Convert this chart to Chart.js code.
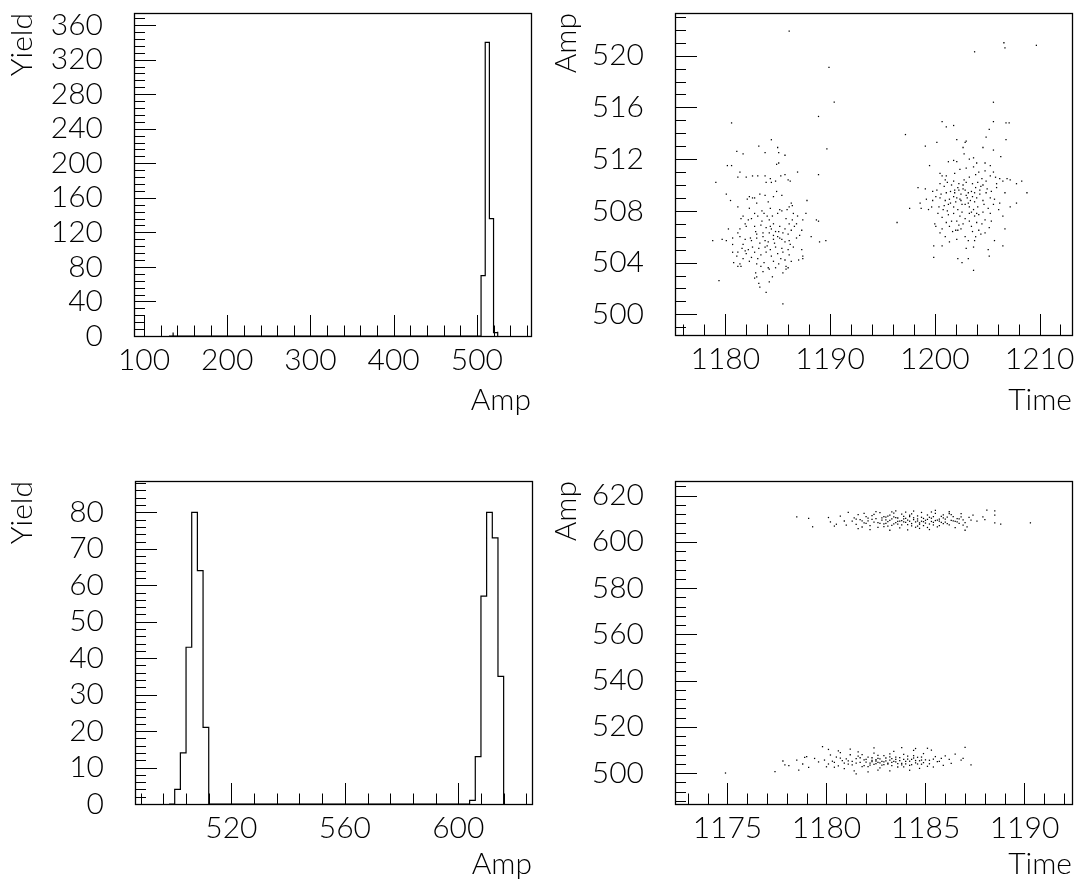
<!DOCTYPE html>
<html>
<head>
<meta charset="utf-8">
<script src="https://cdn.jsdelivr.net/npm/chart.js@4.4.1/dist/chart.umd.min.js"></script>
<style>
  html, body { margin: 0; padding: 0; background: #fff; }
  body { width: 1079px; height: 881px; position: relative; overflow: hidden; }
  canvas { position: absolute; }
</style>
</head>
<body>
<canvas id="ampHist" style="left:0;top:0" width="540" height="440"></canvas>
<canvas id="ampTime" style="left:540px;top:0" width="539" height="440"></canvas>
<canvas id="ampHist2" style="left:0;top:440px" width="540" height="441"></canvas>
<canvas id="ampTime2" style="left:540px;top:440px" width="539" height="441"></canvas>
<script>
// ---- top left: Amp histogram (bin width 5) ----
const amp1Width = 5;
const amp1Low = [130, 500, 505, 510, 515, 520];
const amp1Count = [4, 70, 340, 136, 4, 5];
const amp1XLabels = [100, 200, 300, 400, 500];
const amp1YLabels = [0, 40, 80, 120, 160, 200, 240, 280, 320, 360];

// ---- bottom left: Amp histogram (bin width 2) ----
const amp2Width = 2;
const amp2Low = [498, 500, 502, 504, 506, 508, 510, 602, 604, 606, 608, 610, 612, 614];
const amp2Count = [4, 14, 43, 80, 64, 21, 8, 1, 13, 57, 80, 73, 35, 7];
const amp2XLabels = [520, 560, 600];
const amp2YLabels = [0, 10, 20, 30, 40, 50, 60, 70, 80];

// ---- top right: Amp vs Time ----
const time1XLabels = [1180, 1190, 1200, 1210];
const time1YLabels = [500, 504, 508, 512, 516, 520];
const time1Points = [
  [1186.1,521.9],[1189.9,519.1],[1190.4,516.4],[1188.9,515.3],[1180.6,514.8],[1189.7,512.8],[1188.9,510.8],[1179.1,510.2],[1179.4,502.6],[1185.5,500.8],[1183.9,501.7],
  [1184.4,513.5],[1183.2,513.0],[1185.0,512.9],[1185.7,512.3],[1185.1,512.5],[1181.1,512.6],[1181.7,512.4],[1183.8,512.5],[1184.9,511.6],[1185.1,511.7],
  [1180.2,511.5],[1180.6,511.5],[1186.9,511.0],[1181.2,510.6],[1182.0,510.6],[1182.6,510.7],[1183.1,510.7],[1183.8,510.7],[1184.3,510.5],[1184.4,510.2],
  [1184.8,510.3],[1185.3,510.7],[1185.7,510.8],[1186.0,510.4],[1186.2,510.3],[1181.4,511.0],
  [1180.1,509.3],[1180.5,508.8],[1182.3,509.1],[1182.6,509.0],[1182.8,509.0],[1183.3,509.3],[1183.8,509.2],[1184.6,509.1],[1185.4,509.2],[1186.3,508.6],
  [1187.8,508.8],[1182.3,508.2],[1183.5,508.0],[1184.3,508.2],[1185.2,508.1],[1186.1,508.3],[1186.4,508.4],[1181.2,508.3],[1181.7,507.6],[1182.5,507.4],
  [1181.5,507.4],[1181.9,507.0],[1182.2,507.3],[1182.8,507.8],[1183.1,507.6],[1183.7,507.8],[1184.0,507.6],[1184.2,507.3],[1184.6,507.0],[1185.0,507.8],
  [1185.4,508.0],[1185.8,507.4],[1186.1,507.0],[1186.5,507.8],[1186.9,507.6],[1187.4,507.3],[1187.7,507.8],[1188.7,507.3],[1188.9,507.2],[1180.3,506.6],
  [1181.4,506.6],[1182.0,506.8],[1182.8,506.8],[1183.4,506.9],[1183.9,506.7],[1184.4,506.6],[1184.8,506.4],[1185.2,506.8],[1185.7,506.6],[1186.3,506.5],
  [1186.8,507.0],[1187.3,506.5],[1181.2,506.3],[1183.0,506.2],[1183.6,506.3],[1184.2,506.3],[1184.6,506.1],[1185.0,506.0],[1185.5,506.3],[1186.0,506.2],
  [1187.1,506.1],[1178.8,505.7],[1179.7,505.8],[1180.1,505.7],[1180.7,505.9],[1181.4,506.0],[1181.9,505.8],[1182.5,505.7],[1183.0,505.9],[1183.8,505.7],
  [1184.1,505.6],[1184.6,505.8],[1185.2,505.9],[1185.7,505.6],[1186.1,505.7],[1186.8,505.9],[1188.2,506.0],[1189.0,505.6],[1189.6,505.7],[1180.7,505.4],
  [1181.7,505.4],[1182.6,505.2],[1183.2,505.1],[1183.8,505.2],[1184.3,505.0],[1184.8,505.2],[1185.4,505.1],[1186.0,505.0],[1186.5,505.2],[1187.3,505.0],
  [1180.7,504.8],[1181.2,504.8],[1182.0,504.7],[1182.8,504.8],[1183.4,504.6],[1183.9,504.8],[1184.4,504.5],[1185.0,504.7],[1185.5,504.8],[1186.1,504.6],
  [1187.4,504.5],[1181.1,504.5],[1181.7,504.3],[1182.5,504.4],[1180.8,504.0],[1181.2,503.7],[1181.5,503.7],[1182.3,504.1],[1183.0,503.9],[1183.4,503.7],
  [1184.1,503.6],[1184.6,504.1],[1185.1,503.9],[1185.8,503.7],[1186.3,504.1],[1187.0,504.2],[1187.4,504.3],[1182.9,503.2],[1183.0,502.9],[1183.6,503.3],
  [1184.2,503.5],[1185.5,503.2],[1185.8,503.5],[1186.0,503.6],[1183.2,502.4],[1184.2,502.5],[1182.8,502.8],[1181.4,503.9],
  [1183.3,505.5],[1183.6,506.0],[1184.0,505.3],[1184.3,506.8],[1184.7,505.5],[1185.1,506.4],[1185.4,505.8],[1183.5,507.2],[1184.5,507.6],[1182.9,506.4],
  [1182.4,505.9],[1181.9,504.9],[1183.1,504.3],[1184.8,503.6],[1185.3,504.3],[1186.2,505.4],[1186.6,506.8],[1185.9,508.1],[1184.1,508.7],[1183.0,508.6],
  [1182.1,508.9],[1183.9,510.2],[1184.9,509.5],[1185.7,504.2],[1183.7,504.0],[1182.2,505.0],[1181.6,505.1],[1184.5,502.9],[1183.3,502.1],[1186.4,507.3],
  [1197.2,513.9],[1196.4,507.1],[1203.8,520.3],[1206.6,521.0],[1206.7,520.6],[1209.7,520.8],[1205.6,516.4],[1207.1,514.8],[1205.6,514.9],
  [1200.7,514.9],[1201.1,514.5],[1201.8,514.6],[1200.2,513.3],[1199.1,513.0],[1202.1,513.5],[1202.9,513.3],[1203.0,513.4],[1202.7,512.9],[1204.6,512.9],
  [1204.9,513.7],[1205.2,514.3],[1205.6,512.7],[1206.8,513.5],[1206.8,514.8],[1206.3,512.2],[1202.8,512.4],[1203.3,512.0],[1203.7,512.1],[1204.0,511.7],
  [1204.8,511.7],[1205.3,511.5],[1201.3,511.8],[1201.8,511.9],[1202.1,511.8],[1199.5,511.5],
  [1200.5,510.9],[1200.7,510.7],[1201.1,510.7],[1201.9,510.9],[1202.4,511.2],[1203.0,511.3],[1203.7,511.4],[1204.2,511.0],[1204.8,511.1],[1205.3,510.7],
  [1205.6,511.0],[1206.2,510.5],[1206.9,510.5],[1207.2,510.4],[1207.8,510.1],[1208.3,510.3],[1200.5,510.1],[1201.2,510.2],[1201.8,510.3],[1202.3,510.1],
  [1202.8,510.4],[1203.3,510.6],[1203.9,510.8],[1204.5,510.5],[1204.9,510.3],[1205.9,510.1],[1206.5,510.3],
  [1198.4,509.8],[1199.1,509.7],[1199.8,509.5],[1200.2,509.6],[1200.6,509.3],[1201.1,509.4],[1201.5,509.5],[1201.9,509.4],[1202.3,509.6],[1202.7,509.7],
  [1203.2,509.4],[1203.5,509.5],[1203.8,509.4],[1204.3,509.6],[1204.9,509.4],[1205.4,509.5],[1205.9,509.8],[1206.7,509.4],[1208.8,509.4],[1198.6,508.6],
  [1199.2,508.9],[1199.8,508.8],[1200.1,509.1],[1200.5,509.0],[1201.0,508.8],[1201.4,508.9],[1201.8,509.1],[1202.1,509.0],[1202.5,508.8],[1203.0,509.2],
  [1203.6,509.1],[1204.0,509.0],[1204.6,508.8],[1205.3,509.0],[1206.2,508.6],[1207.8,508.6],
  [1197.6,508.2],[1198.7,508.2],[1199.4,508.1],[1199.7,508.3],[1200.4,508.3],[1200.8,508.1],[1201.3,508.5],[1201.8,508.3],[1202.2,508.1],[1202.6,508.5],
  [1203.2,508.6],[1203.7,508.1],[1204.1,508.3],[1204.6,507.9],[1205.1,508.2],[1205.6,508.5],[1206.1,508.1],[1207.2,508.3],[1200.3,507.8],[1200.7,507.5],
  [1201.3,507.7],[1201.8,507.8],[1202.4,507.6],[1202.9,507.4],[1203.3,507.8],[1203.8,507.6],[1204.2,507.7],[1204.8,507.3],[1205.3,507.8],[1206.5,507.6],
  [1200.0,507.0],[1201.1,507.1],[1201.6,507.2],[1202.1,507.2],[1202.7,507.0],[1203.3,507.2],[1204.0,507.1],[1204.5,507.0],[1205.4,507.2],
  [1200.1,506.8],[1200.7,506.6],[1201.4,506.8],[1202.0,506.5],[1202.5,506.6],[1203.5,506.8],[1204.2,506.5],[1205.2,506.7],[1206.7,506.6],[1200.5,506.3],
  [1201.0,506.0],[1202.2,506.5],[1202.9,506.0],[1203.9,506.0],[1204.8,506.3],[1205.7,505.7],[1201.4,505.6],[1202.1,505.8],[1203.2,505.7],[1203.8,505.7],
  [1199.9,505.3],[1200.7,505.3],[1203.0,505.1],[1203.7,505.2],[1205.1,505.0],[1206.5,505.3],
  [1199.9,504.4],[1202.2,504.3],[1203.2,504.3],[1205.2,504.5],[1202.6,504.0],[1203.7,503.4],
  [1202.5,509.3],[1203.1,509.0],[1203.4,508.8],[1202.9,508.5],[1203.9,509.8],[1202.2,509.8],[1201.6,510.0],[1204.4,509.9],[1203.6,510.1],[1202.0,508.7],
  [1203.5,507.9],[1204.7,508.5],[1201.2,508.0],[1202.7,510.0],[1200.9,509.9],[1204.1,510.2],
  [1202.4,508.9],[1203.3,508.3],[1201.9,509.6],[1204.3,509.3],[1203.0,510.2],[1202.6,507.9],[1204.0,507.8],[1201.5,508.6],[1205.0,509.7],[1202.9,509.6],
  [1203.8,508.7],[1201.0,510.4],[1204.6,510.0],[1200.9,508.4],[1205.7,508.9],[1203.6,506.4],[1202.3,506.9],[1204.4,506.2],[1201.7,506.4],[1205.8,510.6]
];

// ---- bottom right: Amp vs Time ----
const time2XLabels = [1175, 1180, 1185, 1190];
const time2YLabels = [500, 520, 540, 560, 580, 600, 620];
const time2Points = [
  [1178.5,610.8],[1179.1,610.1],[1179.3,606.5],[1180.1,610.5],[1180.2,608.6],[1180.4,606.8],[1180.5,607.6],[1180.7,611.1],[1181.1,612.7],[1180.9,609.0],[1181.0,607.2],
  [1181.3,608.9],[1181.4,610.4],[1181.5,607.5],[1181.6,611.8],[1181.7,609.6],[1181.8,606.4],[1181.9,608.2],[1182.0,610.9],[1181.6,605.7],[1181.9,612.3],
  [1182.1,609.1],[1182.2,607.0],[1182.3,611.3],[1182.4,608.5],[1182.5,610.0],[1182.6,606.2],[1182.7,612.6],[1182.8,609.4],[1182.9,607.8],[1183.0,610.7],
  [1182.2,605.3],[1182.5,613.1],[1182.7,608.0],[1182.4,611.9],[1182.9,606.6],
  [1183.1,608.7],[1183.2,611.5],[1183.3,607.1],[1183.3,609.9],[1183.4,612.4],[1183.5,608.3],[1183.6,610.3],[1183.7,606.0],[1183.8,609.2],[1183.9,611.0],
  [1183.2,605.0],[1183.5,613.4],[1183.6,607.6],[1183.9,608.6],[1183.4,610.8],[1183.1,606.8],[1183.8,612.0],[1183.0,609.5],
  [1184.0,610.1],[1184.1,607.4],[1184.2,608.9],[1184.3,612.1],[1184.4,609.6],[1184.5,606.3],[1184.6,611.2],[1184.7,608.2],[1184.8,610.6],[1184.9,607.0],
  [1184.1,605.2],[1184.4,613.3],[1184.6,609.0],[1184.8,612.7],[1184.2,610.9],[1184.9,608.7],[1184.3,606.9],[1184.7,605.8],
  [1185.0,609.3],[1185.1,611.6],[1185.2,607.7],[1185.3,610.2],[1185.4,608.4],[1185.5,612.3],[1185.6,606.5],[1185.7,609.8],[1185.8,611.0],[1185.9,607.9],
  [1185.2,605.3],[1185.5,613.6],[1185.4,610.9],[1185.7,608.9],[1185.1,606.2],[1185.9,610.4],[1185.3,612.9],
  [1186.0,608.5],[1186.1,610.7],[1186.2,607.3],[1186.3,611.8],[1186.4,609.1],[1186.5,606.1],[1186.6,610.0],[1186.7,608.0],[1186.8,612.2],[1186.9,609.5],
  [1187.0,605.0],[1187.1,606.5],[1187.2,610.6],[1186.2,613.0],[1186.5,608.8],[1186.9,607.2],
  [1187.4,611.5],[1187.9,610.8],[1188.1,613.7],[1188.5,613.4],[1188.5,611.5],[1188.5,608.2],[1188.8,607.6],[1190.3,608.2],[1187.6,608.9],[1188.0,609.6],
  [1182.3,609.7],[1182.6,608.3],[1182.8,610.4],[1183.0,608.0],[1183.2,609.3],[1183.4,607.8],[1183.5,610.5],[1183.7,608.9],[1183.9,609.9],[1184.0,608.4],
  [1184.1,609.4],[1184.3,607.9],[1184.4,610.4],[1184.5,608.6],[1184.6,609.9],[1184.7,607.6],[1184.9,610.1],[1185.0,608.1],[1185.1,609.7],[1185.2,610.6],
  [1185.3,608.8],[1185.4,607.3],[1185.6,609.4],[1185.8,608.4],[1186.0,609.8],[1186.1,607.9],[1186.3,609.3],[1186.4,610.9],[1186.6,608.6],[1186.7,609.9],
  [1182.0,608.0],[1182.1,610.2],[1181.8,609.1],[1183.1,611.1],[1183.6,608.8],[1184.2,611.5],[1184.8,608.9],[1185.5,609.2],[1185.9,611.6],[1186.8,610.8],
  [1187.0,608.3],[1187.3,609.4],[1181.5,609.8],[1182.9,610.9],[1183.8,607.3],[1184.6,606.8],[1185.7,607.0],[1186.2,612.2],[1183.3,612.9],[1184.0,612.8],
  [1174.9,500.0],[1177.4,500.6],[1177.8,505.2],[1177.9,503.5],[1178.1,503.2],[1178.5,505.6],[1178.6,501.3],[1178.8,503.9],[1178.9,506.8],[1179.0,507.1],
  [1179.1,502.4],[1179.4,506.3],[1179.8,511.4],[1179.9,505.6],[1180.0,502.7],[1180.1,510.2],[1180.2,507.8],
  [1180.4,504.6],[1180.5,506.9],[1180.6,503.1],[1180.7,508.8],[1180.8,505.4],[1180.9,501.9],[1180.6,509.6],[1180.4,502.5],
  [1181.0,506.1],[1181.1,503.8],[1181.2,507.9],[1181.3,505.0],[1181.4,500.9],[1181.5,504.3],[1181.6,509.1],[1181.7,506.6],[1181.8,502.8],[1181.9,505.7],
  [1181.2,510.3],[1181.5,499.6],[1181.8,508.0],
  [1182.0,504.7],[1182.1,506.9],[1182.2,503.4],[1182.3,505.5],[1182.4,508.6],[1182.5,504.1],[1182.6,506.3],[1182.7,502.2],[1182.8,505.0],[1182.9,507.5],
  [1182.1,500.5],[1182.3,504.9],[1182.5,505.8],[1182.7,504.4],[1182.9,503.6],[1182.4,510.9],[1182.6,501.3],
  [1183.0,505.3],[1183.1,503.9],[1183.2,507.0],[1183.3,504.6],[1183.4,509.4],[1183.5,505.9],[1183.6,502.6],[1183.7,506.7],[1183.8,504.2],[1183.9,508.1],
  [1183.2,500.9],[1183.5,504.8],[1183.8,511.0],[1183.3,506.2],
  [1184.0,505.0],[1184.1,507.3],[1184.2,503.3],[1184.3,505.9],[1184.4,509.8],[1184.5,504.4],[1184.6,506.8],[1184.7,502.0],[1184.8,505.6],[1184.9,508.4],
  [1184.2,501.2],[1184.5,510.6],[1184.8,503.8],
  [1185.1,510.7],[1185.3,509.9],[1185.5,507.1],[1185.6,504.9],[1185.8,506.3],[1186.2,505.9],[1186.3,504.2],[1186.5,508.2],[1186.8,505.6],[1186.9,506.3],
  [1187.0,511.1],[1187.3,503.5],[1185.2,505.5],[1185.9,503.3],[1186.0,507.4],[1185.4,502.6],
  [1181.1,505.3],[1181.3,503.5],[1181.5,506.2],[1181.7,504.6],[1181.9,503.2],[1182.0,505.9],[1182.2,504.3],[1182.3,506.6],[1182.4,503.7],[1182.5,505.2],
  [1182.6,504.6],[1182.7,506.1],[1182.8,503.4],[1182.9,504.8],[1183.0,506.5],[1183.1,504.3],[1183.2,505.6],[1183.3,503.2],[1183.4,505.0],[1183.5,506.9],
  [1183.6,504.1],[1183.7,505.4],[1183.8,503.5],[1183.9,505.9],[1184.0,504.0],[1184.1,506.0],[1184.2,505.1],[1184.3,503.6],[1184.4,506.5],[1184.5,505.4],
  [1184.6,503.9],[1184.7,505.3],[1184.8,506.9],[1184.9,504.5],[1185.0,505.7],[1185.2,504.0],[1185.4,506.0],[1185.7,505.0],[1180.9,504.3],[1180.7,506.4],
  [1180.3,505.1],[1180.1,503.9],[1179.6,504.8],[1182.1,502.8],[1183.2,508.3],[1183.9,502.7],[1184.4,507.5],[1182.6,507.6],[1181.6,507.3],[1185.1,502.9]
];

const FONT = { family: 'Lato, "DejaVu Sans", sans-serif', size: 30, weight: 300, lineHeight: 1 };

function range(a, b, step) {
  const out = [];
  for (let v = a; v <= b + 1e-9; v += step) out.push(+v.toFixed(4));
  return out;
}

// histogram outline: vertical-first steps through the bin edges
function histSteps(lows, counts, width) {
  const pts = [];
  let prevHi = null;
  lows.forEach((lo, i) => {
    const hi = lo + width;
    if (prevHi === null || Math.abs(prevHi - lo) > 1e-9) {
      if (prevHi !== null) pts.push({ x: prevHi, y: 0 });
      pts.push({ x: lo, y: 0 });
    }
    pts.push({ x: hi, y: counts[i] });
    prevHi = hi;
  });
  pts.push({ x: prevHi, y: 0 });
  return pts;
}

// frame box and inward ticks, ROOT style
const rootFrame = {
  id: 'rootFrame',
  afterDatasetsDraw(chart, args, opts) {
    const { ctx, chartArea: a, scales } = chart;
    const x = scales.x, y = scales.y;
    ctx.save();
    ctx.strokeStyle = '#000';
    ctx.lineWidth = 1;
    ctx.beginPath();
    const xt = (list, len) => list.forEach(v => {
      if (v < x.min || v > x.max) return;
      const p = Math.round(x.getPixelForValue(v)) + 0.5;
      ctx.moveTo(p, a.bottom); ctx.lineTo(p, a.bottom - len);
    });
    const yt = (list, len) => list.forEach(v => {
      if (v < y.min || v > y.max) return;
      const p = Math.round(y.getPixelForValue(v)) + 0.5;
      ctx.moveTo(a.left, p); ctx.lineTo(a.left + len, p);
    });
    xt(opts.xMajor, 21); xt(opts.xMinor, 10.5);
    yt(opts.yMajor, 22); yt(opts.yMinor, 11);
    ctx.stroke();
    ctx.lineWidth = 1.3;
    ctx.strokeRect(Math.round(a.left) + 0.5, Math.round(a.top) + 0.5,
      Math.round(a.right - a.left), Math.round(a.bottom - a.top));
    ctx.restore();
  }
};

function makeScales(c) {
  return {
    x: {
      type: 'linear', min: c.xMin, max: c.xMax,
      afterBuildTicks: s => { s.ticks = c.xLabels.map(v => ({ value: v })); },
      afterFit: s => { s.height = c.xHeight; s.paddingLeft = 0; s.paddingRight = 0; },
      grid: { display: false, drawTicks: false },
      border: { display: false },
      ticks: { font: FONT, color: '#000', padding: 9, autoSkip: false, maxRotation: 0, callback: v => String(v) },
      title: { display: true, text: c.xTitle, align: 'end', font: FONT, color: '#000', padding: { top: 0, bottom: c.xTitlePad } }
    },
    y: {
      type: 'linear', min: c.yMin, max: c.yMax,
      afterBuildTicks: s => { s.ticks = c.yLabels.map(v => ({ value: v })); },
      afterFit: s => { s.width = c.yWidth; s.paddingTop = 0; s.paddingBottom = 0; },
      grid: { display: false, drawTicks: false },
      border: { display: false },
      ticks: { font: FONT, color: '#000', padding: 31, autoSkip: false, callback: v => String(v) },
      title: { display: true, text: c.yTitle, align: 'end', font: FONT, color: '#000', padding: { top: c.yTitlePad, bottom: 0 } }
    }
  };
}

function makeChart(id, datasets, c) {
  return new Chart(document.getElementById(id), {
    type: 'scatter',
    data: { datasets: datasets },
    options: {
      responsive: false, animation: false, devicePixelRatio: 1,
      events: [],
      layout: { padding: { top: c.padTop, right: c.padRight, left: 0, bottom: 0 } },
      plugins: {
        legend: { display: false }, tooltip: { enabled: false },
        rootFrame: { xMajor: c.xLabels, xMinor: c.xMinor, yMajor: c.yLabels, yMinor: c.yMinor }
      },
      scales: makeScales(c)
    },
    plugins: [rootFrame]
  });
}

function histSet(lows, counts, width) {
  return {
    type: 'line', data: histSteps(lows, counts, width), stepped: 'before',
    borderColor: '#000', borderWidth: 1.2, pointRadius: 0, fill: false, showLine: true
  };
}

function dotSet(points) {
  return {
    data: points.map(p => ({ x: p[0], y: p[1] })),
    pointStyle: 'rect', pointRadius: 0.9, backgroundColor: '#000', borderWidth: 0
  };
}

makeChart('ampHist', [histSet(amp1Low, amp1Count, amp1Width)], {
  xMin: 88, xMax: 565, yMin: 0, yMax: 374,
  xLabels: amp1XLabels, xMinor: range(120, 560, 20),
  yLabels: amp1YLabels, yMinor: range(8, 368, 8),
  xTitle: 'Amp', yTitle: 'Yield', xHeight: 104, yWidth: 134,
  xTitlePad: 25, yTitlePad: 7, padTop: 13, padRight: 9
});

makeChart('ampTime', [dotSet(time1Points)], {
  xMin: 1175.2, xMax: 1213.1, yMin: 498.4, yMax: 523.3,
  xLabels: time1XLabels, xMinor: range(1176, 1212, 2),
  yLabels: time1YLabels, yMinor: range(499, 523, 1),
  xTitle: 'Time', yTitle: 'Amp', xHeight: 105, yWidth: 135,
  xTitlePad: 25, yTitlePad: 11, padTop: 13, padRight: 7
});

makeChart('ampHist2', [histSet(amp2Low, amp2Count, amp2Width)], {
  xMin: 486, xMax: 626, yMin: 0, yMax: 88.6,
  xLabels: amp2XLabels, xMinor: range(488, 624, 8),
  yLabels: amp2YLabels, yMinor: range(2, 88, 2),
  xTitle: 'Amp', yTitle: 'Yield', xHeight: 77, yWidth: 135,
  xTitlePad: 2, yTitlePad: 7, padTop: 41, padRight: 8
});

makeChart('ampTime2', [dotSet(time2Points)], {
  xMin: 1172.35, xMax: 1192.4, yMin: 486.6, yMax: 626.3,
  xLabels: time2XLabels, xMinor: range(1173, 1192, 1),
  yLabels: time2YLabels, yMinor: range(488, 624, 4),
  xTitle: 'Time', yTitle: 'Amp', xHeight: 77, yWidth: 135,
  xTitlePad: 2, yTitlePad: 11, padTop: 41, padRight: 7
});
</script>
</body>
</html>
